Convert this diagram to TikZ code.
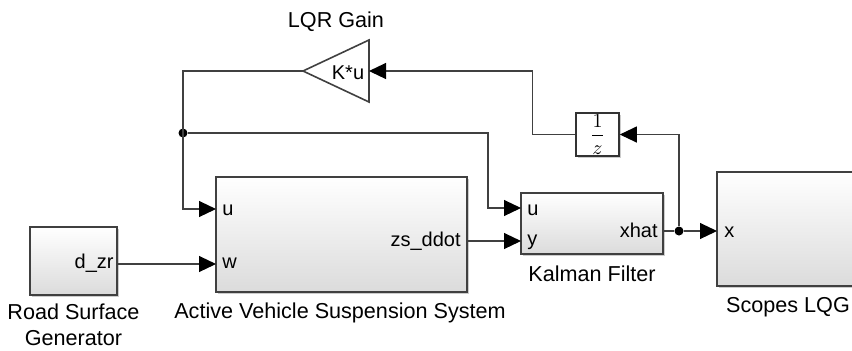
\documentclass[tikz,border=0pt]{standalone}
\usepackage{fontspec}
\setmainfont{Liberation Sans}
\usetikzlibrary{positioning, arrows.meta, shadows}

\begin{document}
\begin{tikzpicture}[x=0.5pt, y=-0.5pt,
  blk/.style 2 args={draw=black!75, line width=0.8pt, top color=white, bottom color=black!14, minimum width=#1, minimum height=#2, inner sep=0pt,
    drop shadow={shadow xshift=0.8pt, shadow yshift=-0.8pt, fill=black!40, opacity=0.5}},
  dly/.style={draw=black!80, line width=0.8pt, fill=white, minimum width=21.5pt, minimum height=21.5pt, inner sep=0pt,
    drop shadow={shadow xshift=0.8pt, shadow yshift=-0.8pt, fill=black!40, opacity=0.5}},
  lbl/.style={font=\fontsize{10.8}{13}\selectfont, inner sep=0pt},
  port/.style={font=\fontsize{10}{12}\selectfont, inner sep=0pt},
  dot/.style={circle, fill=black, inner sep=0pt, minimum size=4.5pt},
  wire/.style={draw=black!75, line width=0.55pt},
  arr/.style={wire, -{Triangle[length=8.5pt, width=8pt, color=black]}}]
\useasboundingbox (0,0) rectangle (852,350);
\clip (0,0) rectangle (852,350);
% blocks
\node[blk={43.5pt}{34pt}] (road) at (73.5,261) {};
\node[blk={125.5pt}{57.5pt}] (susp) at (341.5,234.5) {};
\node[blk={71pt}{30.5pt}] (kf) at (592,223.5) {};
\node[blk={71pt}{57pt}] (scope) at (788,229) {};
\node[dly] (delay) at (597.5,134.5) {$\displaystyle\frac{1}{z}$};
\draw[draw=black!75, line width=0.8pt, fill=white] (369,40) -- (369,102) -- (303,71) -- cycle;
\node[port, anchor=base] (gaintxt) at (348,79) {K*u};
% ports
\coordinate (rd) at (117,264);
\coordinate (su) at (216,209);
\coordinate (sw) at (216,264);
\coordinate (sz) at (467,241);
\coordinate (ku) at (521,208);
\coordinate (ky) at (521,241);
\coordinate (kx) at (663,231);
\coordinate (sx) at (717,231);
\coordinate (gin) at (369,71);
\coordinate (gout) at (303,71);
\node[port, anchor=base east] (rdtxt) at (114,268) {d\_zr};
\node[port, anchor=base west] (sutxt) at (222,215) {u};
\node[port, anchor=base west] (swtxt) at (222,268) {w};
\node[port, anchor=base east] (sztxt) at (461,246) {zs\_ddot};
\node[port, anchor=base west] (kutxt) at (527,215) {u};
\node[port, anchor=base west] (kytxt) at (527,245) {y};
\node[port, anchor=base east] (kxtxt) at (658,237) {xhat};
\node[port, anchor=base west] (sxtxt) at (724,237) {x};
% junctions
\node[dot] (j1) at (183,133) {};
\node[dot] (j2) at (679,231) {};
% signals
\foreach \a/\b in {rd/sw, sz/ky, j2/sx} \draw[arr] (\a) -- (\b);
\draw[wire] (kx) -- (j2);
\draw[arr] (j2) |- (delay.east);
\draw[arr] (delay.west) -- ++(-43,0) |- (gin);
\draw[arr] (gout) -| (j1.center) |- (su);
\draw[arr] (j1) -- ++(305,0) |- (ku);
% labels
\node[lbl, anchor=base] (gainlbl) at (336,27) {LQR Gain};
\node[lbl, align=center] (roadlbl) at (73.5,324.5) {Road Surface\\Generator};
\node[lbl, anchor=base] (susplbl) at (340,318) {Active Vehicle Suspension System};
\node[lbl, anchor=base] (kflbl) at (592,281) {Kalman Filter};
\node[lbl, anchor=base] (scopelbl) at (788,312) {Scopes LQG};
\end{tikzpicture}
\end{document}
